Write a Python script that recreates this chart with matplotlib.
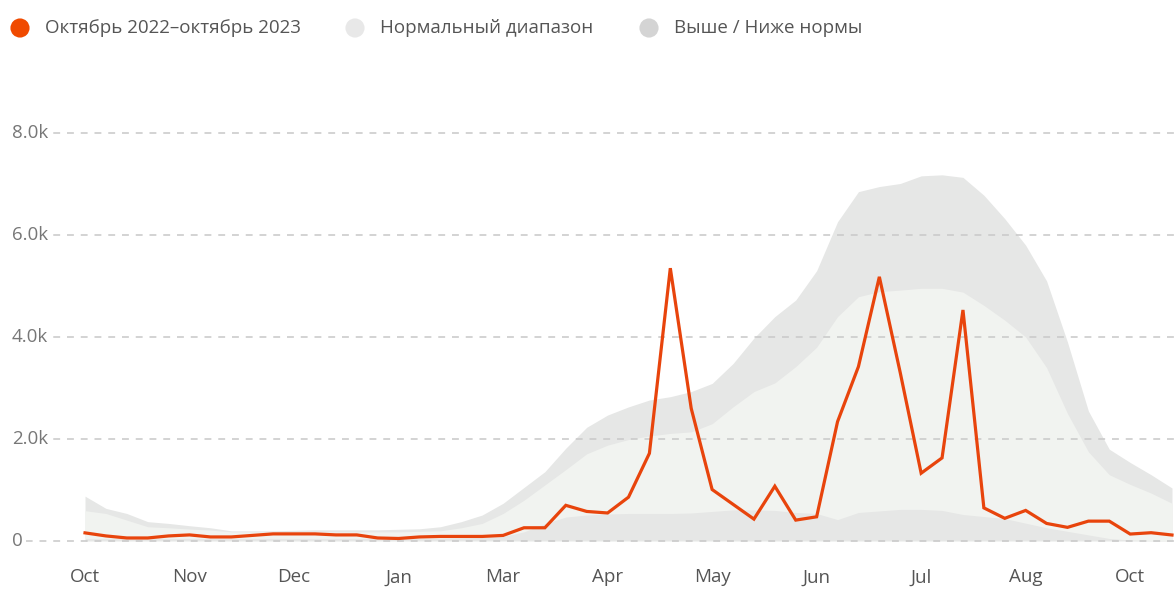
import numpy as np
import matplotlib
matplotlib.use("Agg")
import matplotlib.pyplot as plt

plt.rcParams['font.family'] = ['Open Sans', 'DejaVu Sans']

# weekly points, Oct 2022 - Oct 2023
cases = [160, 100, 60, 60, 100, 120, 80, 80, 110, 140,
         140, 140, 120, 120, 60, 50, 80, 90, 90, 90,
         110, 260, 260, 700, 580, 550, 860, 1720, 5350, 2600,
         1010, 720, 430, 1075, 410, 475, 2340, 3420, 5180, 3300,
         1330, 1630, 4530, 650, 445, 600, 345, 268, 390, 390,
         137, 163, 118]

range_max = [880, 640, 540, 380, 345, 300, 260, 200, 200, 200,
             210, 220, 220, 220, 220, 230, 240, 280, 380, 510,
             740, 1050, 1360, 1820, 2230, 2470, 2630, 2765, 2830, 2930,
             3090, 3480, 3980, 4400, 4725, 5300, 6260, 6850, 6950, 7010,
             7160, 7180, 7130, 6780, 6320, 5800, 5100, 3900, 2550, 1800,
             1540, 1300, 1040]

normal_high = [595, 540, 410, 280, 260, 235, 215, 180, 180, 180,
               180, 180, 180, 180, 180, 180, 190, 200, 260, 345,
               540, 800, 1100, 1400, 1710, 1880, 1990, 2060, 2110, 2140,
               2300, 2630, 2930, 3100, 3420, 3800, 4400, 4790, 4890, 4920,
               4955, 4955, 4880, 4620, 4330, 4000, 3400, 2500, 1750, 1300,
               1110, 940, 740]

normal_low = [50, 50, 50, 50, 50, 50, 50, 50, 50, 50,
              50, 50, 50, 50, 50, 50, 50, 50, 60, 70,
              90, 180, 340, 470, 510, 530, 540, 540, 540, 550,
              580, 610, 610, 600, 560, 540, 420, 560, 590, 620,
              620, 600, 520, 480, 440, 350, 260, 190, 120, 50,
              20, 10, 10]

tick_labels = ['Oct', 'Nov', 'Dec', 'Jan', 'Mar', 'Apr', 'May', 'Jun', 'Jul', 'Aug', 'Oct']
y_ticks = [0, 2000, 4000, 6000, 8000]
y_labels = ['0', '2.0k', '4.0k', '6.0k', '8.0k']
legend_labels = ['Октябрь 2022–октябрь 2023', 'Нормальный диапазон', 'Выше / Ниже нормы']

red = '#e8440c'
outer_col = '#e6e7e6'
inner_col = '#f1f3f0'

x = np.arange(len(cases))

fig = plt.figure(figsize=(11.75, 6.01), dpi=100)
ax = fig.add_axes([12 / 1175, 41 / 601, 1163 / 1175, 460 / 601])

ax.fill_between(x, 0, range_max, color=outer_col, lw=0, zorder=1)
ax.fill_between(x, normal_low, normal_high, color=inner_col, lw=0, zorder=2)

for yv in y_ticks:
    ax.axhline(yv, color='#c8c8c8', lw=1.1, ls=(0, (4.5, 4.5)), zorder=3)

ax.plot(x, cases, color=red, lw=2.3, zorder=5, solid_joinstyle='miter')

ax.set_xlim(-73 / 20.9, 52 + 3 / 20.9)
ax.set_ylim(-372, 8647)

ax.set_xticks(x[::5])
ax.set_xticklabels(tick_labels, fontsize=13.5, color='#555555')
ax.tick_params(axis='x', length=0, pad=6)
ax.set_yticks([])
for s in ax.spines.values():
    s.set_visible(False)

for yv, lab in zip(y_ticks, y_labels):
    ax.text(0, yv, lab, transform=ax.get_yaxis_transform(), ha='left', va='center',
            fontsize=13.5, color='#777777', zorder=6,
            bbox=dict(facecolor='white', edgecolor='none', pad=2))

# legend row at the top
lax = fig.add_axes([0, 0, 1, 1], zorder=10)
lax.set_xlim(0, 1175)
lax.set_ylim(601, 0)
lax.axis('off')
leg_x = [20, 355, 649]
leg_colors = ['#f04a00', '#e8e8e8', '#d4d4d4']
for lx, lc, lt in zip(leg_x, leg_colors, legend_labels):
    lax.scatter([lx], [28], s=190, color=lc, edgecolors='none')
    lax.text(lx + 25, 28, lt, ha='left', va='center', fontsize=13.5, color='#555555')

fig.savefig('out.png', dpi=100)
